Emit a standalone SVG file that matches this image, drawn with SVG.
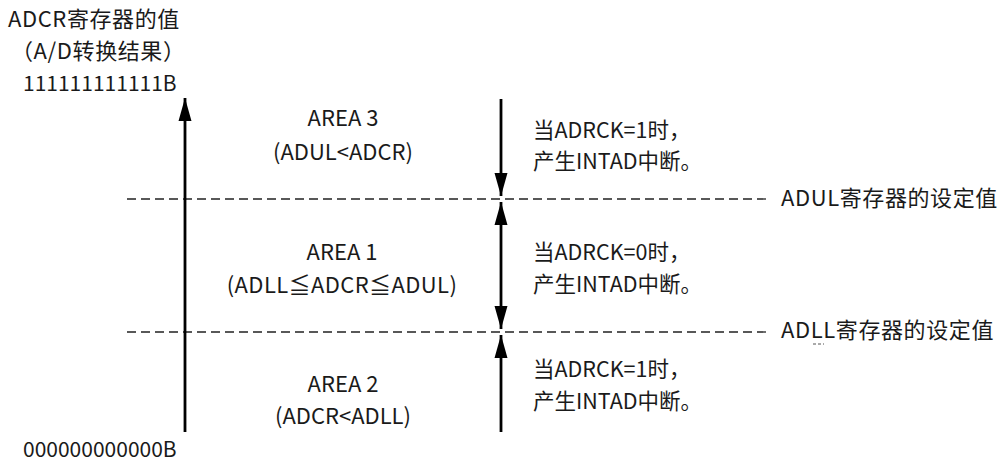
<svg xmlns="http://www.w3.org/2000/svg" width="1001" height="461" viewBox="0 0 1001 461">
<style>
text{font-family:"Noto Sans CJK SC","Noto Sans",sans-serif;font-size:21.5px;fill:#1a1a1a}
.c{text-anchor:middle;font-size:22px}
.lb{font-size:22px;letter-spacing:0.6px}
.num{font-size:21px}
.dash{stroke:#222;stroke-width:1.3;stroke-dasharray:9 5;fill:none}
.arr{stroke:#000;stroke-width:2.8;fill:none}
</style>
<defs>
<marker id="ah" markerUnits="userSpaceOnUse" markerWidth="24" markerHeight="14" viewBox="0 0 24 14" refX="23" refY="7" orient="auto-start-reverse">
<path d="M0,0.5 L23,7 L0,13.5 Z" fill="#000"/>
</marker>
</defs>
<g id="axis-labels">
<text class="lb" x="8" y="27">ADCR寄存器的值</text>
<text class="lb" x="11" y="59">（A/D转换结果）</text>
<text class="num" x="23" y="91">111111111111B</text>
<text class="num" x="23" y="457">000000000000B</text>
</g>
<g id="connectors">
<line class="dash" x1="127" y1="199" x2="768" y2="199"/>
<line class="dash" x1="127" y1="332" x2="768" y2="332"/>
<line class="arr" x1="185" y1="432" x2="185" y2="98" marker-end="url(#ah)"/>
<line class="arr" x1="501" y1="99" x2="501" y2="196" marker-end="url(#ah)"/>
<line class="arr" x1="501" y1="202" x2="501" y2="329" marker-start="url(#ah)" marker-end="url(#ah)"/>
<line class="arr" x1="501" y1="432" x2="501" y2="335" marker-end="url(#ah)"/>
</g>
<g id="area3">
<text class="c" x="343" y="126">AREA 3</text>
<text class="c" x="343" y="160">(ADUL&lt;ADCR)</text>
</g>
<g id="area1">
<text class="c" x="342" y="260">AREA 1</text>
<text class="c" x="342" y="293" letter-spacing="0.4">(ADLL≦ADCR≦ADUL)</text>
</g>
<g id="area2">
<text class="c" x="343" y="392">AREA 2</text>
<text class="c" x="343" y="424">(ADCR&lt;ADLL)</text>
</g>
<g id="note3">
<text x="533" y="138">当ADRCK=1时，</text>
<text x="533" y="169">产生INTAD中断。</text>
</g>
<g id="note1">
<text x="533" y="260">当ADRCK=0时，</text>
<text x="533" y="292">产生INTAD中断。</text>
</g>
<g id="note2">
<text x="533" y="377">当ADRCK=1时，</text>
<text x="533" y="409">产生INTAD中断。</text>
</g>
<g id="adul-label">
<text class="lb" x="781" y="206" letter-spacing="1">ADUL寄存器的设定值</text>
</g>
<g id="adll-label">
<text class="lb" x="781" y="338" letter-spacing="1">ADLL寄存器的设定值</text>
<line x1="813" y1="344" x2="824" y2="344" stroke="#555" stroke-width="1" stroke-dasharray="3 2"/>
</g>
</svg>
